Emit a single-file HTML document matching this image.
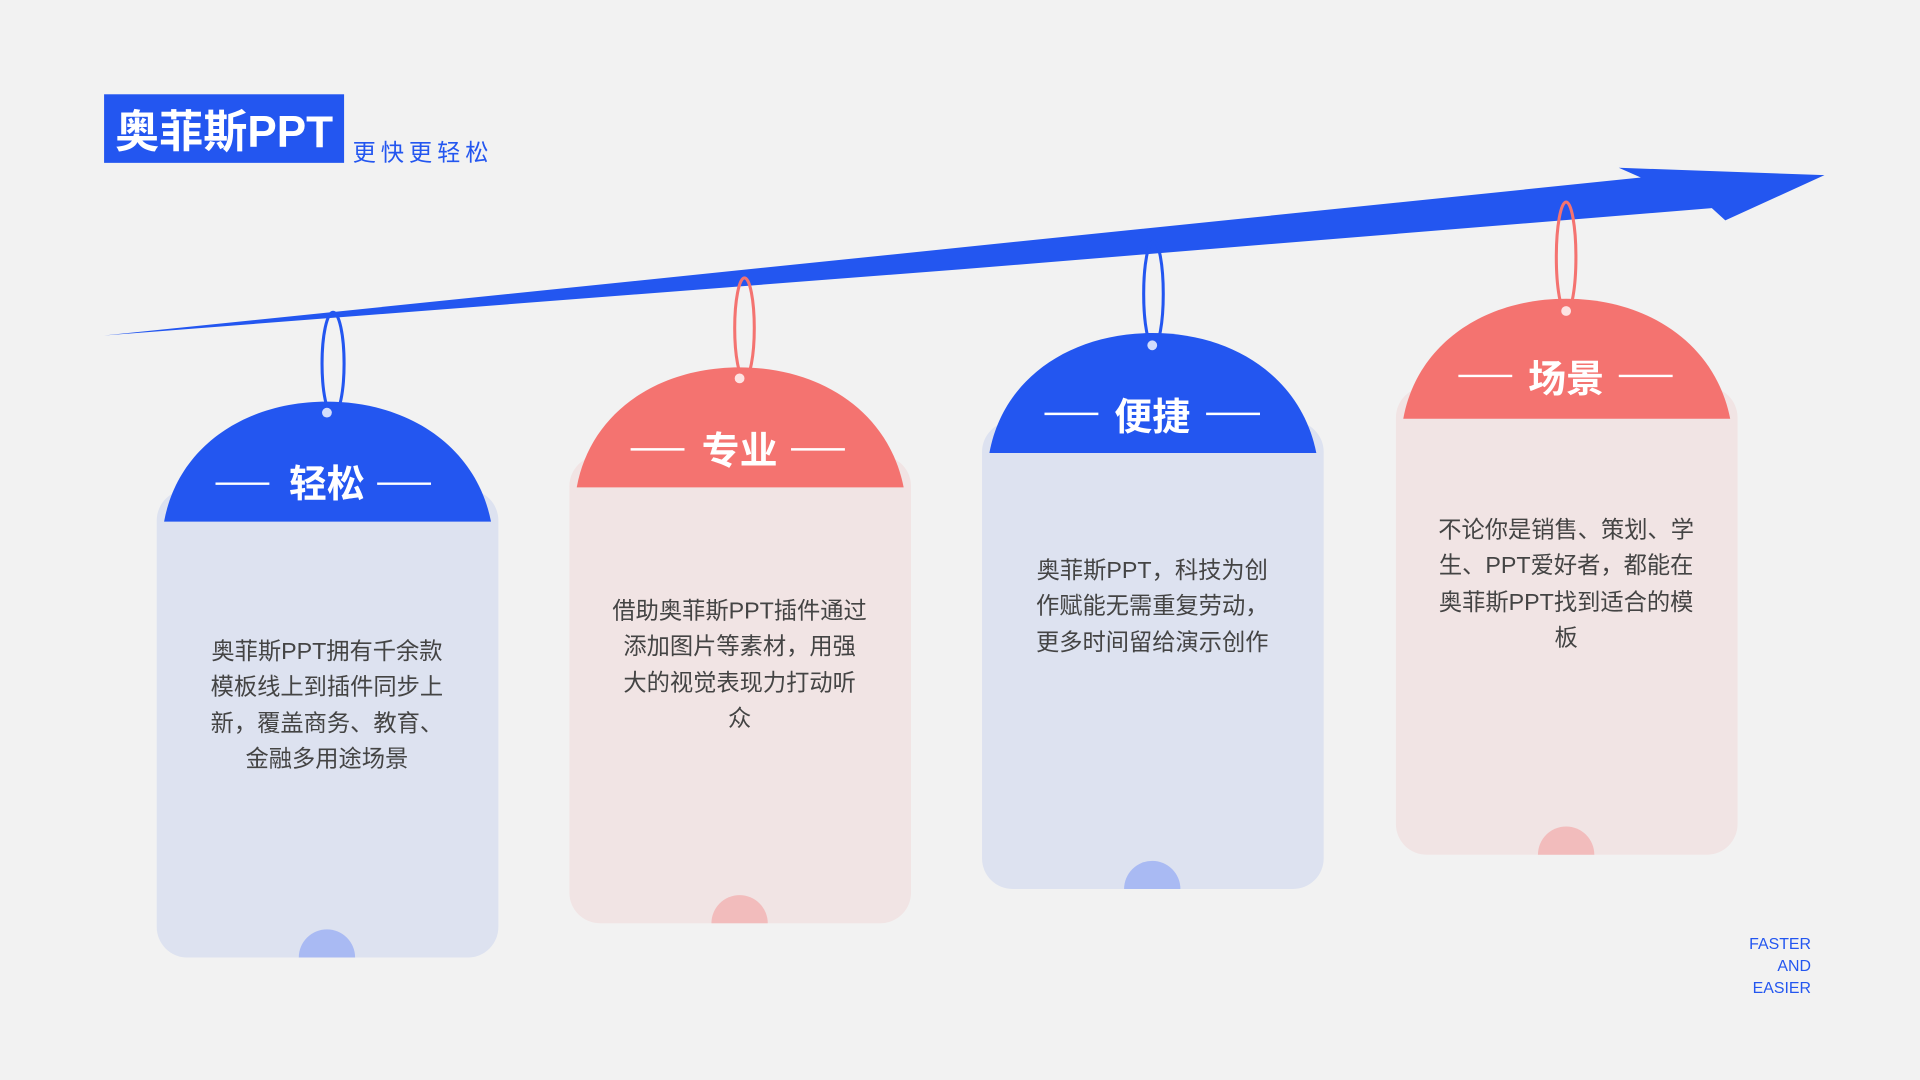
<!DOCTYPE html>
<html><head><meta charset="utf-8"><style>
html,body{margin:0;padding:0;background:#f2f2f2;}
svg{display:block;}
text{font-family:"Liberation Sans","Noto Sans CJK SC",sans-serif;}
</style></head><body>
<svg width="1920" height="1080" viewBox="0 0 1568 882" xmlns="http://www.w3.org/2000/svg">
<rect width="1568" height="882" fill="#f2f2f2"/>
<rect x="85" y="77" width="196" height="56" fill="#2356f0"/>
<text x="183" y="120" font-size="36" font-weight="bold" fill="#fff" text-anchor="middle">奥菲斯PPT</text>
<text x="288" y="131" font-size="19" fill="#2356f0" letter-spacing="4">更快更轻松</text>
<path d="M85,274 L1340,145 L1322,137 L1490,143 L1409,180 L1398,170 L784,220 Z" fill="#2356f0"/>
<defs>
<clipPath id="c1"><rect x="128" y="400" width="279" height="382" rx="25"/></clipPath>
<clipPath id="c2"><rect x="465" y="372" width="279" height="382" rx="25"/></clipPath>
<clipPath id="c3"><rect x="802" y="344" width="279" height="382" rx="25"/></clipPath>
<clipPath id="c4"><rect x="1140" y="316" width="279" height="382" rx="25"/></clipPath>
</defs>
<!-- card1 -->
<rect x="128" y="400" width="279" height="382" rx="25" fill="#dde2f0"/>
<circle cx="267" cy="782" r="23" fill="#a9baf3" clip-path="url(#c1)"/>
<path d="M134,426 C145,365 200,328 267,328 C334,328 389,365 401,426 Z" fill="#2356f0"/>
<ellipse cx="272" cy="297" rx="9" ry="42" fill="none" stroke="#2356f0" stroke-width="2.5"/>
<circle cx="267" cy="337" r="4" fill="#fff" opacity="0.8"/>
<line x1="176" y1="395" x2="220" y2="395" stroke="#fff" stroke-width="2"/>
<line x1="308" y1="395" x2="352" y2="395" stroke="#fff" stroke-width="2"/>
<text x="267" y="406" font-size="31" font-weight="bold" fill="#fff" text-anchor="middle">轻松</text>
<g font-size="19" fill="#444" text-anchor="middle">
<text x="267" y="538">奥菲斯PPT拥有千余款</text><text x="267" y="567">模板线上到插件同步上</text><text x="267" y="597">新，覆盖商务、教育、</text><text x="267" y="626">金融多用途场景</text></g>
<!-- card2 -->
<rect x="465" y="372" width="279" height="382" rx="25" fill="#f1e4e4"/>
<circle cx="604" cy="754" r="23" fill="#f2bcbc" clip-path="url(#c2)"/>
<path d="M471,398 C482,337 537,300 604,300 C671,300 726,337 738,398 Z" fill="#f47370"/>
<ellipse cx="608" cy="268" rx="8" ry="41" fill="none" stroke="#f47370" stroke-width="2.5"/>
<circle cx="604" cy="309" r="4" fill="#fff" opacity="0.8"/>
<line x1="515" y1="367" x2="559" y2="367" stroke="#fff" stroke-width="2"/>
<line x1="646" y1="367" x2="690" y2="367" stroke="#fff" stroke-width="2"/>
<text x="604" y="379" font-size="31" font-weight="bold" fill="#fff" text-anchor="middle">专业</text>
<g font-size="19" fill="#444" text-anchor="middle">
<text x="604" y="505">借助奥菲斯PPT插件通过</text><text x="604" y="534">添加图片等素材，用强</text><text x="604" y="564">大的视觉表现力打动听</text><text x="604" y="593">众</text></g>
<!-- card3 -->
<rect x="802" y="344" width="279" height="382" rx="25" fill="#dde2f0"/>
<circle cx="941" cy="726" r="23" fill="#a9baf3" clip-path="url(#c3)"/>
<path d="M808,370 C819,309 874,272 941,272 C1008,272 1063,309 1075,370 Z" fill="#2356f0"/>
<ellipse cx="942" cy="240" rx="8" ry="43" fill="none" stroke="#2356f0" stroke-width="2.5"/>
<circle cx="941" cy="282" r="4" fill="#fff" opacity="0.8"/>
<line x1="853" y1="338" x2="897" y2="338" stroke="#fff" stroke-width="2"/>
<line x1="985" y1="338" x2="1029" y2="338" stroke="#fff" stroke-width="2"/>
<text x="941" y="351" font-size="31" font-weight="bold" fill="#fff" text-anchor="middle">便捷</text>
<g font-size="19" fill="#444" text-anchor="middle">
<text x="941" y="472">奥菲斯PPT，科技为创</text><text x="941" y="501">作赋能无需重复劳动，</text><text x="941" y="531">更多时间留给演示创作</text></g>
<!-- card4 -->
<rect x="1140" y="316" width="279" height="382" rx="25" fill="#f1e4e4"/>
<circle cx="1279" cy="698" r="23" fill="#f2bcbc" clip-path="url(#c4)"/>
<path d="M1146,342 C1157,281 1212,244 1279,244 C1346,244 1401,281 1413,342 Z" fill="#f47370"/>
<ellipse cx="1279" cy="210" rx="8" ry="45" fill="none" stroke="#f47370" stroke-width="2.5"/>
<circle cx="1279" cy="254" r="4" fill="#fff" opacity="0.8"/>
<line x1="1191" y1="307" x2="1235" y2="307" stroke="#fff" stroke-width="2"/>
<line x1="1322" y1="307" x2="1366" y2="307" stroke="#fff" stroke-width="2"/>
<text x="1279" y="320" font-size="31" font-weight="bold" fill="#fff" text-anchor="middle">场景</text>
<g font-size="19" fill="#444" text-anchor="middle">
<text x="1279" y="439">不论你是销售、策划、学</text><text x="1279" y="468">生、PPT爱好者，都能在</text><text x="1279" y="498">奥菲斯PPT找到适合的模</text><text x="1279" y="527">板</text></g>
<g font-size="13" fill="#2356f0" text-anchor="end">
<text x="1479" y="775">FASTER</text><text x="1479" y="793">AND</text><text x="1479" y="811">EASIER</text></g>
</svg>
</body></html>
